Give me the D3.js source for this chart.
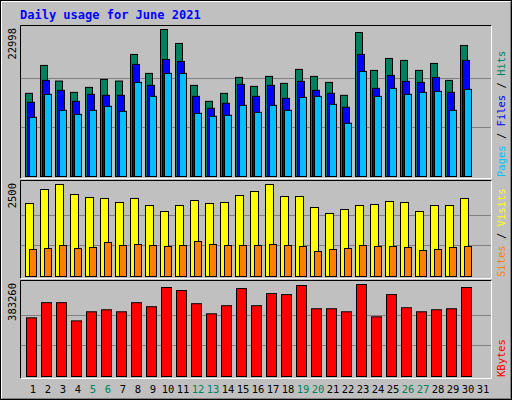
<!DOCTYPE html>
<html><head><meta charset="utf-8">
<script src="https://cdn.jsdelivr.net/npm/d3@7"></script>
<style>body{margin:0;background:#fff}text{font-family:"DejaVu Sans Mono",monospace}</style>
</head><body><svg id="chart" width="512" height="400"></svg>
<script>
const days = d3.range(1, 32)
const weekends = [5, 6, 12, 13, 19, 20, 26, 27]
const hits = [13008,17378,14933,13164,13944,15193,14933,19095,16129,22998,20812,14256,11759,13008,15505,14100,15661,14568,16754,15661,14725,12695,22529,16598,18471,18158,16598,17690,15037,20500]
const files = [11603,15037,13476,11759,12851,12695,12695,17534,14256,18315,18002,12539,10666,11447,14412,12539,14256,12227,14881,13476,13008,10822,19095,13788,15817,14881,14725,15505,13164,18158]
const pages = [9261,12851,10354,9730,10354,10978,10198,14725,12539,16129,16129,9886,9417,9574,11134,10042,11134,10354,12383,12539,11291,8325,16441,12539,13788,12851,13164,13320,10354,13632]
const visits = [1984,2364,2500,2228,2147,2120,2011,2120,1929,1766,1929,2065,1984,2011,2201,2310,2500,2174,2174,1875,1712,1821,1929,1957,2038,2011,1766,1929,1929,2120]
const sites = [734,761,842,761,788,924,842,870,842,815,842,951,870,842,842,842,870,842,815,679,734,761,842,815,815,788,707,734,788,815]
const kbytes = [244279,307454,307454,231644,269549,277972,269549,307454,290607,370630,357995,303242,261125,294819,366418,294819,345359,341148,379053,282184,282184,269549,383260,248490,341148,286396,269549,277972,282184,370630]

const svg = d3.select('#chart')
svg.append('rect').attr('width', 512).attr('height', 400).attr('fill', '#c0c0c0')
svg.append('rect').attr('x', 0.5).attr('y', 0.5).attr('width', 511).attr('height', 399).attr('fill', 'none').attr('stroke', '#000')
svg.append('path').attr('d', 'M1.5,398.5V1.5H510.5').attr('fill', 'none').attr('stroke', '#fff')
svg.append('path').attr('d', 'M2,398.5H510.5V2').attr('fill', 'none').attr('stroke', '#808080')

svg.append('text').attr('x', 20).attr('y', 19).attr('fill', '#0000ff')
  .attr('font-size', 12).attr('font-weight', 'bold').text('Daily usage for June 2021')

const x = d3.scaleBand().domain(days).range([25, 490]).padding(0)

let panel = (top, bottom, max, label, series, names) => {
  const y = d3.scaleLinear().domain([0, max]).range([bottom - 2, top + 4])
  const g = svg.append('g')
  g.append('path').attr('d', `M20.5,${bottom + 0.5}V${top + 0.5}H491.5`).attr('fill', 'none').attr('stroke', '#000')
  g.append('path').attr('d', `M20.5,${bottom + 0.5}H491.5V${top + 0.5}`).attr('fill', 'none').attr('stroke', '#fff')
  const grid = [1 / 3, 2 / 3].map(f => y(max * f))
  g.selectAll('.grid').data(grid).enter().append('line')
    .attr('x1', 21).attr('x2', 491).attr('y1', d => Math.round(d) + 0.5).attr('y2', d => Math.round(d) + 0.5)
    .attr('stroke', '#808080')
  series.forEach(s => {
    g.selectAll(null).data(s.values).enter().append('rect')
      .attr('x', (d, i) => x(days[i]) + s.dx + 0.5)
      .attr('y', d => y(d) + 0.5)
      .attr('width', s.w)
      .attr('height', d => y(0) - y(d))
      .attr('fill', s.color).attr('stroke', '#000')
  })
  g.append('text').attr('transform', `translate(16,${top + 3}) rotate(-90)`)
    .attr('text-anchor', 'end').attr('font-size', 10.5).attr('fill', '#000').text(label)
  const t = g.append('text').attr('transform', `translate(505,${bottom - 1}) rotate(-90)`)
    .attr('font-size', 10.5)
  names.forEach((n, i) => {
    if (i > 0) t.append('tspan').attr('fill', '#000').text(' / ')
    t.append('tspan').attr('fill', n[1]).text(n[0])
  })
}

panel(25, 178, 22998, '22998', [
  { values: hits, dx: 0, w: 7, color: '#00805c' },
  { values: files, dx: 2, w: 7, color: '#0000ff' },
  { values: pages, dx: 4, w: 7, color: '#00c0ff' }
], [['Pages', '#00c0ff'], ['Files', '#0000ff'], ['Hits', '#00805c']])

panel(180, 278, 2500, '2500', [
  { values: visits, dx: 0, w: 8, color: '#ffff00' },
  { values: sites, dx: 4, w: 7, color: '#ff8000' }
], [['Sites', '#ff8000'], ['Visits', '#ffff00']])

panel(280, 378, 383260, '383260', [
  { values: kbytes, dx: 1, w: 10, color: '#ff0000' }
], [['KBytes', '#ff0000']])

svg.selectAll('.day').data(days).enter().append('text')
  .attr('x', d => x(d) + 8).attr('y', 393).attr('text-anchor', 'middle')
  .attr('font-size', 10.5)
  .attr('fill', d => weekends.includes(d) ? '#00805c' : '#000')
  .text(d => d)
</script></body></html>
